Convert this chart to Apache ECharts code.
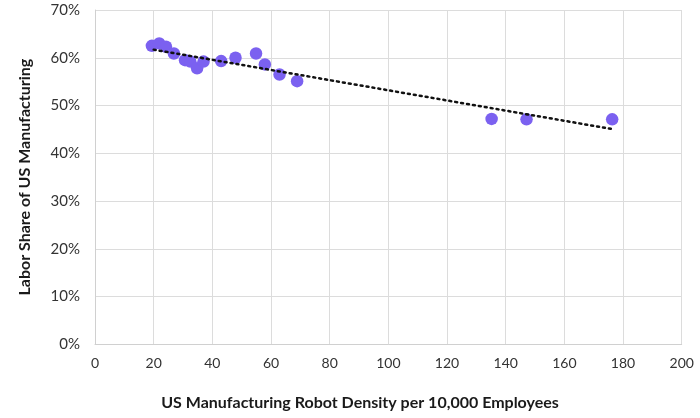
<!DOCTYPE html>
<html>
<head>
<meta charset="utf-8">
<script src="https://cdn.jsdelivr.net/npm/echarts@6/dist/echarts.min.js"></script>
<style>html,body{margin:0;padding:0;background:#fff;}#c{width:700px;height:418px;}</style>
</head>
<body>
<div id="c"></div>
<script>
const robotDensity = [19.4, 21.9, 24.2, 26.9, 30.7, 32.5, 34.8, 37.0, 43.0, 47.9, 54.9, 57.9, 62.9, 68.9, 135.2, 147.1, 176.3];
const laborShare   = [62.5, 63.0, 62.3, 60.9, 59.5, 59.2, 57.8, 59.2, 59.3, 60.0, 60.9, 58.6, 56.5, 55.1, 47.2, 47.1, 47.1];
const trendX = [20, 176];
const trendY = [61.7, 45.1];
const xTicks = [0, 20, 40, 60, 80, 100, 120, 140, 160, 180, 200];
const yTicks = [0, 10, 20, 30, 40, 50, 60, 70];

const pts = robotDensity.map((x, i) => [x, laborShare[i]]);
const trend = trendX.map((x, i) => [x, trendY[i]]);
const font = 'Lato, "Open Sans", sans-serif';

const chart = echarts.init(document.getElementById('c'));
chart.setOption({
  animation: false,
  backgroundColor: '#fff',
  title: {
    text: 'US Manufacturing Robot Density per 10,000 Employees',
    left: 360, top: 395, textAlign: 'center', padding: 0,
    textStyle: { fontFamily: font, fontWeight: 'bold', fontSize: 16, color: '#1a1a1a' }
  },
  grid: { left: 95, right: 18.3, top: 10, bottom: 73.7, containLabel: false },
  xAxis: {
    type: 'value', min: xTicks[0], max: xTicks[xTicks.length - 1], interval: 20,
    axisLine: { show: true, lineStyle: { color: '#d0d0d0', width: 1 } },
    axisTick: { show: false },
    axisLabel: { fontFamily: font, fontSize: 14, color: '#333', margin: 12 },
    splitLine: { show: true, lineStyle: { color: '#dcdcdc', width: 1 } }
  },
  yAxis: {
    type: 'value', min: yTicks[0], max: yTicks[yTicks.length - 1], interval: 10,
    name: 'Labor Share of US Manufacturing',
    nameLocation: 'middle', nameGap: 62, nameRotate: 90,
    nameTextStyle: { fontFamily: font, fontWeight: 'bold', fontSize: 16, color: '#1a1a1a' },
    axisLine: { show: true, lineStyle: { color: '#d0d0d0', width: 1 } },
    axisTick: { show: false },
    axisLabel: { fontFamily: font, fontSize: 15, color: '#333', margin: 15, formatter: v => v + '%' },
    splitLine: { show: true, lineStyle: { color: '#dcdcdc', width: 1 } }
  },
  series: [
    {
      type: 'line', data: trend, symbol: 'none', z: 3,
      lineStyle: { color: '#111', width: 2.5, type: [2, 4], cap: 'round' }
    },
    {
      type: 'scatter', data: pts, symbolSize: 12.5, z: 2,
      itemStyle: { color: '#7b61f0', opacity: 1 }
    }
  ]
});
</script>
</body>
</html>
